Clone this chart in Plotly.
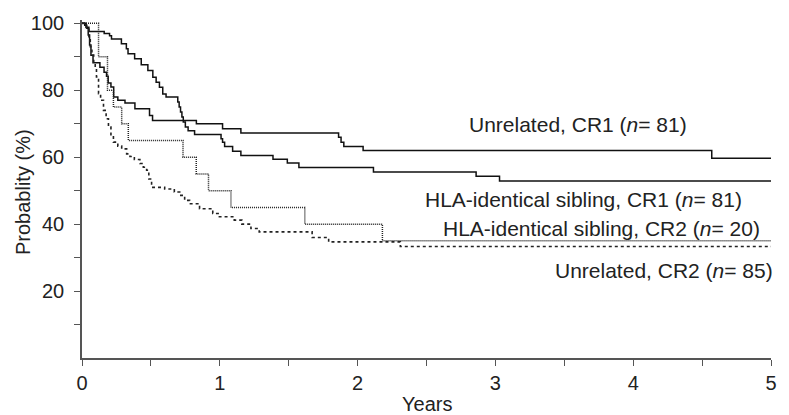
import plotly.graph_objects as go

# Kaplan-Meier step data (years, probability %)
unrel_cr1_x = [0, 0.02, 0.035, 0.045, 0.055, 0.065, 0.08, 0.13, 0.16, 0.178, 0.19, 0.21, 0.23, 0.26,
               0.312, 0.384, 0.49, 0.512, 0.83, 1.02, 1.153, 1.862, 1.88, 1.9, 2.04, 4.57, 5]
unrel_cr1_y = [100, 99.4, 98.5, 96.5, 93.5, 90.5, 88.2, 86.9, 85.4, 84.2, 82.2, 81.0, 78.0, 77.0,
               76.2, 74.5, 72.5, 71.0, 70.0, 68.5, 67.2, 66.0, 64.5, 63.2, 62.0, 59.7, 59.7]

sib_cr1_x = [0, 0.03, 0.05, 0.161, 0.2, 0.214, 0.286, 0.322, 0.334, 0.382, 0.43, 0.478, 0.514, 0.538,
             0.562, 0.586, 0.61, 0.695, 0.705, 0.715, 0.725, 0.735, 0.75, 0.77, 0.817, 1.009, 1.02,
             1.035, 1.093, 1.153, 1.386, 1.49, 1.574, 2.115, 2.86, 3.03, 5]
sib_cr1_y = [100, 98.8, 97.6, 97.0, 96.3, 95.3, 93.9, 92.4, 90.9, 89.4, 87.6, 85.9, 83.9, 82.4,
             80.9, 78.9, 78.0, 76.5, 75.0, 73.5, 72.0, 70.5, 69.0, 67.9, 66.8, 65.5, 64.5,
             63.2, 61.8, 60.5, 59.4, 58.3, 56.9, 55.6, 54.3, 52.9, 52.9]

sib_cr2_x = [0, 0.12, 0.185, 0.228, 0.288, 0.336, 0.733, 0.829, 0.918, 1.081, 1.617, 2.18, 5]
sib_cr2_y = [100, 90, 80, 75, 70, 65, 60, 55, 50, 45, 40, 35, 35]

unrel_cr2_x = [0, 0.03, 0.05, 0.06, 0.072, 0.085, 0.096, 0.105, 0.12, 0.135, 0.156, 0.175, 0.192, 0.21,
               0.228, 0.26, 0.288, 0.324, 0.348, 0.38, 0.42, 0.445, 0.469, 0.485, 0.505, 0.6, 0.67,
               0.709, 0.745, 0.781, 0.853, 0.949, 0.997, 1.105, 1.16, 1.226, 1.286, 1.67, 1.79, 2.31, 5]
unrel_cr2_y = [100, 98.8, 96, 93, 90.5, 88, 86.9, 84, 79, 77, 74, 71.5, 69, 66.5,
               64.5, 63.3, 62.5, 61, 60.2, 59.3, 58.1, 57, 56.1, 53.5, 51, 50.5, 49.6,
               48.6, 47.1, 46.1, 44.6, 43.2, 42.2, 41.2, 40.0, 38.7, 37.7, 36.0, 34.7, 33.3, 33.3]

labels = ["Unrelated, CR1 (<i>n</i>= 81)",
          "HLA-identical sibling, CR1 (<i>n</i>= 81)",
          "HLA-identical sibling, CR2 (<i>n</i>= 20)",
          "Unrelated, CR2 (<i>n</i>= 85)"]
label_x = [3.60, 3.636, 3.773, 4.22]
label_y = [69.8, 47.4, 38.8, 26.2]

x_ticks = [0, 0.5, 1, 1.5, 2, 2.5, 3, 3.5, 4, 4.5, 5]
x_ticktext = ["0", "", "1", "", "2", "", "3", "", "4", "", "5"]
y_ticks = [10, 20, 30, 40, 50, 60, 70, 80, 90, 100]
y_ticktext = ["", "20", "", "40", "", "60", "", "80", "", "100"]

FONT = "Liberation Sans, Arial, sans-serif"

fig = go.Figure()
fig.add_trace(go.Scatter(x=unrel_cr1_x, y=unrel_cr1_y, mode="lines", line_shape="hv",
                         line=dict(color="#111111", width=1.5), name="Unrelated, CR1"))
fig.add_trace(go.Scatter(x=sib_cr1_x, y=sib_cr1_y, mode="lines", line_shape="hv",
                         line=dict(color="#111111", width=1.5), name="HLA-identical sibling, CR1"))
fig.add_trace(go.Scatter(x=sib_cr2_x, y=sib_cr2_y, mode="lines", line_shape="hv",
                         line=dict(color="#222222", width=1.5, dash="1px,1px"), name="HLA-identical sibling, CR2"))
fig.add_trace(go.Scatter(x=unrel_cr2_x, y=unrel_cr2_y, mode="lines", line_shape="hv",
                         line=dict(color="#222222", width=1.6, dash="3px,3px"), name="Unrelated, CR2"))

for t, ax, ay in zip(labels, label_x, label_y):
    fig.add_annotation(x=ax, y=ay, xref="x", yref="y", text=t, showarrow=False,
                       xanchor="center", yanchor="middle",
                       font=dict(family=FONT, size=21, color="#222"))

fig.add_annotation(x=-0.0847, y=0.49, xref="paper", yref="paper", text="Probablity (%)",
                   showarrow=False, textangle=-90, xanchor="center", yanchor="middle",
                   font=dict(family=FONT, size=20, color="#222"))
fig.add_annotation(x=0.5, y=-0.136, xref="paper", yref="paper", text="Years",
                   showarrow=False, xanchor="center", yanchor="middle",
                   font=dict(family=FONT, size=20, color="#222"))

fig.update_layout(
    width=789, height=415,
    margin=dict(l=82, r=14, t=19, b=57),
    paper_bgcolor="white", plot_bgcolor="white",
    showlegend=False,
    font=dict(family=FONT, size=19, color="#222"),
    xaxis=dict(range=[0, 5], tickmode="array", tickvals=x_ticks, ticktext=x_ticktext,
               showgrid=False, zeroline=False, showline=True, linecolor="#555", linewidth=1.6,
               ticks="outside", ticklen=6, tickwidth=1.4, tickcolor="#555",
               tickfont=dict(family=FONT, size=20, color="#222")),
    yaxis=dict(range=[0, 101], tickmode="array", tickvals=y_ticks, ticktext=y_ticktext,
               showgrid=False, zeroline=False, showline=True, linecolor="#555", linewidth=1.6,
               ticks="outside", ticklen=6, tickwidth=1.4, tickcolor="#555",
               ticklabelstandoff=6,
               tickfont=dict(family=FONT, size=20, color="#222")),
)

fig.write_html("out.html")
